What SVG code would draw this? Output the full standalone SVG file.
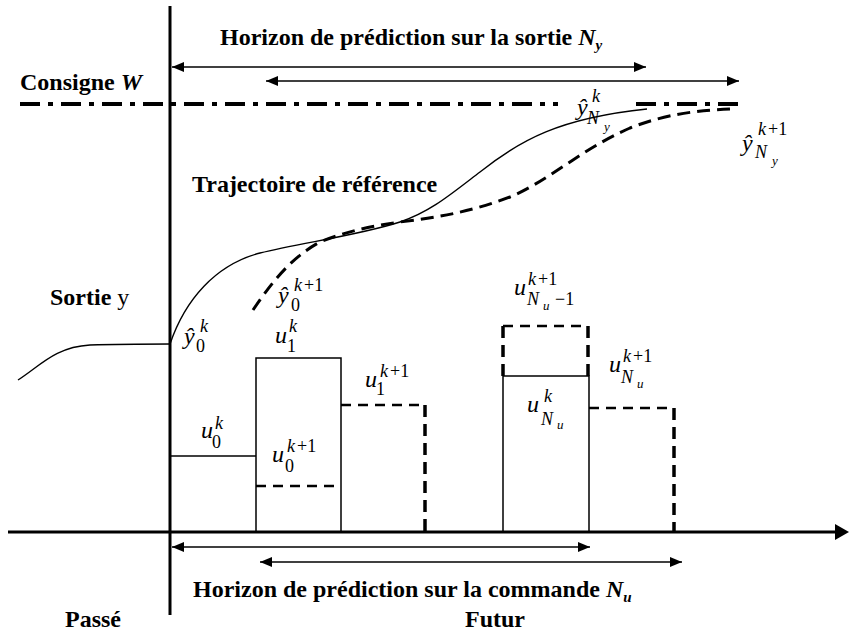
<svg xmlns="http://www.w3.org/2000/svg" width="849" height="641" viewBox="0 0 849 641">
<style>
.lbl{font-family:"Liberation Serif","Times New Roman",serif;font-weight:bold;font-size:24px;fill:#000}
.m{font-family:"Liberation Serif","Times New Roman",serif;font-style:italic;font-size:24px;fill:#000}
.s{font-size:18px}
.ss{font-size:13px}
.up{font-style:normal}
.ax{stroke:#000;stroke-width:3;fill:none}
.thin{stroke:#000;stroke-width:1.5;fill:none}
.dash{stroke:#000;stroke-width:2.5;fill:none;stroke-dasharray:10 7}
.dashv{stroke:#000;stroke-width:3.5;fill:none;stroke-dasharray:12 7}
.curve{stroke:#000;stroke-width:1.4;fill:none}
.dcurve{stroke:#000;stroke-width:3;fill:none;stroke-dasharray:13 7}
.dd{stroke:#000;stroke-width:4;fill:none;stroke-dasharray:20 8 5 8}
.arr{stroke:#000;stroke-width:1.6;fill:none;marker-start:url(#ah);marker-end:url(#ah)}
</style>
<defs>
<marker id="ah" viewBox="0 0 12 10" refX="12" refY="5" markerWidth="12" markerHeight="10" markerUnits="userSpaceOnUse" orient="auto-start-reverse">
<path d="M0,0 L12,5 L0,10 z" fill="#000"/>
</marker>
</defs>
<rect width="849" height="641" fill="#fff"/>

<g id="axes">
<line class="ax" x1="170" y1="6" x2="170" y2="615"/>
<line class="ax" x1="8" y1="532" x2="840" y2="532"/>
<polygon points="835,524 849,532 835,540" fill="#000"/>
</g>

<g id="consigne">
<line class="dd" x1="20" y1="104" x2="558" y2="104"/>
<line class="dd" x1="636" y1="104" x2="740" y2="104"/>
<text class="lbl" x="20" y="90">Consigne <tspan font-style="italic">W</tspan></text>
</g>

<g id="horizon-sortie">
<text class="lbl" x="220" y="45">Horizon de prédiction sur la sortie <tspan font-style="italic">N</tspan><tspan font-style="italic" font-size="15" dy="5">y</tspan></text>
</g>

<g id="connectors">
<line class="arr" x1="172" y1="67" x2="646" y2="67"/>
<line class="arr" x1="266" y1="81" x2="739" y2="81"/>
<line class="arr" x1="172" y1="547" x2="590" y2="547"/>
<line class="arr" x1="260" y1="562" x2="682" y2="562"/>
</g>

<g id="trajectoires">
<path class="curve" d="M18,380 C40,366 55,347 90,345 C120,344 150,344 170,344"/>
<path class="curve" d="M170,344 C185,300 215,265 260,253 C300,243 360,235 400,222 C430,212 450,195 480,172 C520,140 560,118 647,109"/>
<path class="dcurve" d="M253,310 C270,285 290,258 320,242 C345,232 370,226 400,222 C440,217 470,212 510,197 C550,180 580,150 630,128 C665,114 700,110 732,109"/>
<text class="lbl" x="192" y="192">Trajectoire de référence</text>
<text class="lbl" x="50" y="305">Sortie <tspan font-weight="normal">y</tspan></text>
</g>

<g id="commande-k">
<polyline class="thin" points="170,456 256,456"/>
<polyline class="thin" points="256,532 256,358 341,358 341,532"/>
<polyline class="thin" points="503,532 503,376 589,376 589,532"/>
</g>

<g id="commande-k1">
<line class="dash" x1="256" y1="486" x2="340" y2="486"/>
<line class="dash" x1="341" y1="405" x2="425" y2="405"/>
<line class="dashv" x1="425" y1="405" x2="425" y2="532"/>
<line class="dash" x1="503" y1="326" x2="588" y2="326"/>
<line class="dashv" x1="503" y1="326" x2="503" y2="376"/>
<line class="dashv" x1="588" y1="326" x2="588" y2="376"/>
<line class="dash" x1="589" y1="408" x2="674" y2="408"/>
<line class="dashv" x1="674" y1="408" x2="674" y2="532"/>
</g>

<g id="labels">
<text class="m" x="577" y="115">ŷ</text>
<text class="m s" x="592" y="102">k</text>
<text class="m s" x="587" y="124">N</text>
<text class="m ss" x="604" y="131">y</text>

<text class="m" x="742" y="151">ŷ</text>
<text class="m s" x="758" y="135">k<tspan class="up" dx="2">+1</tspan></text>
<text class="m s" x="755" y="158">N</text>
<text class="m ss" x="772" y="165">y</text>

<text class="m" x="278" y="303">ŷ</text>
<text class="m s" x="294" y="291">k<tspan class="up" dx="2">+1</tspan></text>
<text class="m s up" x="291" y="311">0</text>

<text class="m" x="184" y="344">ŷ</text>
<text class="m s" x="200" y="332">k</text>
<text class="m s up" x="196" y="352">0</text>

<text class="m" x="275" y="343">u</text>
<text class="m s" x="289" y="332">k</text>
<text class="m s up" x="287" y="352">1</text>

<text class="m" x="365" y="387">u</text>
<text class="m s" x="380" y="377">k<tspan class="up" dx="2">+1</tspan></text>
<text class="m s up" x="376" y="395">1</text>

<text class="m" x="201" y="438">u</text>
<text class="m s" x="215" y="429">k</text>
<text class="m s up" x="212" y="448">0</text>

<text class="m" x="272" y="462">u</text>
<text class="m s" x="287" y="452">k<tspan class="up" dx="2">+1</tspan></text>
<text class="m s up" x="285" y="472">0</text>

<text class="m" x="527" y="412">u</text>
<text class="m s" x="544" y="402">k</text>
<text class="m s" x="541" y="425">N</text>
<text class="m ss" x="557" y="429">u</text>

<text class="m" x="609" y="372">u</text>
<text class="m s" x="623" y="362">k<tspan class="up" dx="2">+1</tspan></text>
<text class="m s" x="621" y="383">N</text>
<text class="m ss" x="637" y="388">u</text>

<text class="m" x="514" y="295">u</text>
<text class="m s" x="528" y="285">k<tspan class="up" dx="2">+1</tspan></text>
<text class="m s" x="527" y="305">N</text>
<text class="m ss" x="543" y="310">u</text>
<text class="m s up" x="555" y="305">−1</text>
</g>

<g id="horizon-commande">
<text class="lbl" x="193" y="597">Horizon de prédiction sur la commande <tspan font-style="italic">N</tspan><tspan font-style="italic" font-size="15" dy="5">u</tspan></text>
</g>

<g id="temps">
<text class="lbl" x="65" y="627">Passé</text>
<text class="lbl" x="465" y="627">Futur</text>
</g>
</svg>
